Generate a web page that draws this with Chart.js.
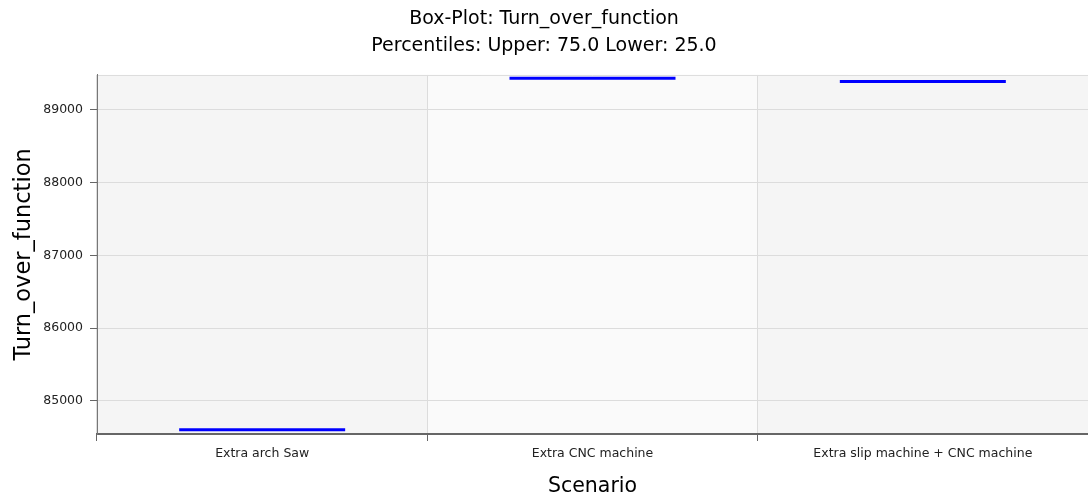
<!DOCTYPE html>
<html>
<head>
<meta charset="utf-8">
<script src="https://cdn.jsdelivr.net/npm/chart.js@4/dist/chart.umd.min.js"></script>
<style>
  html, body { margin: 0; padding: 0; background: #fff; }
  #wrap { width: 1088px; height: 500px; }
</style>
</head>
<body>
<div id="wrap"><canvas id="box"></canvas></div>
<script>
// data
const scenarios = ['Extra arch Saw', 'Extra CNC machine', 'Extra slip machine + CNC machine'];
const medians = [84601, 89436, 89390];
const yTicks = [85000, 86000, 87000, 88000, 89000];
const yMin = 84542;
const yMax = 89481;

const bandColors = ['#f5f5f5', '#fafafa'];
const fontFamily = '"DejaVu Sans", Tahoma, sans-serif';

// alternating column shading behind the grid
const bandPlugin = {
    id: 'bands',
    beforeDraw(chart) {
        const { ctx, chartArea, scales } = chart;
        const x = scales.x;
        const half = (chartArea.right - chartArea.left) / scenarios.length / 2;
        ctx.save();
        scenarios.forEach((s, i) => {
            const cx = x.getPixelForValue(i);
            ctx.fillStyle = bandColors[i % 2];
            ctx.fillRect(cx - half, chartArea.top, half * 2, chartArea.bottom - chartArea.top);
        });
        ctx.strokeStyle = '#dcdcdc';
        ctx.lineWidth = 1;
        ctx.beginPath();
        ctx.moveTo(chartArea.left, chartArea.top + 0.5);
        ctx.lineTo(chartArea.right, chartArea.top + 0.5);
        ctx.stroke();
        ctx.restore();
    }
};

const tickFont = { family: fontFamily, size: 12.5 };

new Chart(document.getElementById('box'), {
    type: 'line',
    data: {
        labels: scenarios,
        datasets: [{
            label: 'Median',
            data: medians,
            showLine: false,
            pointStyle: 'line',
            pointRadius: 83,
            pointHoverRadius: 83,
            pointBorderWidth: 3,
            pointHoverBorderWidth: 3,
            borderColor: '#0000ff',
            backgroundColor: '#0000ff'
        }]
    },
    plugins: [bandPlugin],
    options: {
        responsive: true,
        maintainAspectRatio: false,
        animation: false,
        events: [],
        layout: { padding: 0, autoPadding: false },
        plugins: {
            legend: { display: false },
            tooltip: { enabled: false },
            title: {
                display: true,
                text: ['Box-Plot: Turn_over_function', 'Percentiles: Upper: 75.0 Lower: 25.0'],
                color: '#000',
                font: { family: fontFamily, size: 19, weight: 'normal', lineHeight: 1.42 },
                padding: { top: 6, bottom: 15 }
            }
        },
        scales: {
            x: {
                type: 'category',
                offset: true,
                afterFit(scale) {
                    scale.height = 66;
                },
                grid: {
                    offset: true,
                    color: '#dcdcdc',
                    tickColor: '#666',
                    tickLength: 7,
                    drawTicks: true
                },
                border: { color: '#666', width: 2 },
                ticks: { color: '#222', font: tickFont, padding: 5, maxRotation: 0 },
                title: {
                    display: true,
                    text: 'Scenario',
                    color: '#000',
                    font: { family: fontFamily, size: 20.5 },
                    padding: { top: 4, bottom: 1 }
                }
            },
            y: {
                min: yMin,
                max: yMax,
                afterFit(scale) {
                    scale.width = 97;
                },
                afterBuildTicks(scale) {
                    scale.ticks = yTicks.map(v => ({ value: v }));
                },
                grid: {
                    color: '#dcdcdc',
                    tickColor: '#666',
                    tickLength: 7
                },
                border: { color: '#777', width: 1 },
                ticks: {
                    color: '#222',
                    font: tickFont,
                    padding: 7,
                    callback: v => String(v)
                },
                title: {
                    display: true,
                    text: 'Turn_over_function',
                    color: '#000',
                    font: { family: fontFamily, size: 22.5 },
                    padding: { top: 11, bottom: 0 }
                }
            }
        }
    }
});
</script>
</body>
</html>
